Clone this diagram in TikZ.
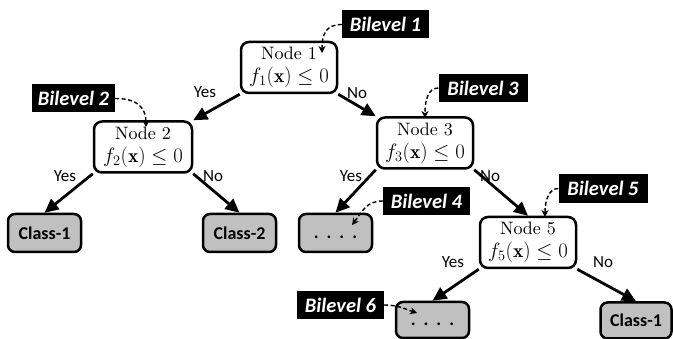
\documentclass[tikz,border=0pt]{standalone}
\usepackage{fontspec}
\usetikzlibrary{arrows.meta}
\newfontfamily\carlito{Carlito}
\newfontfamily\nodefont{lmroman10-regular.otf}
\definecolor{leafgray}{RGB}{192,192,192}
\begin{document}
\begin{tikzpicture}[x=1pt,y=-1pt,
  dnode/.style={draw, line width=2.5pt, rounded corners=8pt, fill=white, minimum width=96pt, minimum height=51pt, inner sep=0pt, align=center, font=\nodefont\fontsize{18}{23}\selectfont},
  leaf/.style={draw, line width=2.5pt, rounded corners=7pt, fill=leafgray, minimum width=73pt, minimum height=38pt, inner sep=0pt, font=\carlito\bfseries\fontsize{18}{22}\selectfont},
  bl/.style={fill=black, text=white, minimum width=87pt, minimum height=28pt, inner sep=0pt, font=\carlito\bfseries\itshape\fontsize{20.5}{24}\selectfont},
  yn/.style={font=\carlito\fontsize{17}{20}\selectfont, inner sep=0pt},
  arr/.style={line width=2.8pt, -{Triangle[length=14pt,width=13pt]}},
  darr/.style={line width=1.4pt, dash pattern=on 4pt off 2.5pt, -{Stealth[length=7pt,width=7pt]}}
]
\useasboundingbox (0,0) rectangle (673,339);
\newcommand{\dotsrow}{\vphantom{C}.\hskip 8pt.\hskip 8pt.\hskip 8pt.}
\newcommand{\fx}[1]{{\fontsize{19.5}{23}\selectfont$f_{#1}(\mathbf{x})\leq 0$}}
% decision nodes
\node[dnode] (n1) at (289,67.5) {Node 1\\\fx{1}};
\node[dnode, minimum width=98pt] (n2) at (143,147) {Node 2\\\fx{2}};
\node[dnode] (n3) at (425,143) {Node 3\\\fx{3}};
\node[dnode] (n5) at (528,242.5) {Node 5\\\fx{5}};
% leaves
\node[leaf] (c1) at (44.5,233) {Class-1};
\node[leaf] (c2) at (239.5,233) {Class-2};
\node[leaf] (d4) at (335.5,233) {\dotsrow};
\node[leaf, minimum height=36pt] (d6) at (432.5,320) {\dotsrow};
\node[leaf, minimum height=36pt, minimum width=71pt] (c1r) at (636,320.5) {Class-1};
% solid connectors
\draw[arr] (n1.south west) -- (n2.north east);
\draw[arr] (n1.south east) -- (n3.north west);
\draw[arr] (n2.south west) -- (c1.north);
\draw[arr] (n2.south east) -- (c2.north);
\draw[arr] (n3.south west) -- (d4.north);
\draw[arr] (n3.south east) -- (n5.north);
\draw[arr] (n5.south west) -- (d6.north);
\draw[arr] (n5.south east) -- (c1r.north);
% yes / no labels
\node[yn] (y1) at (205,92) {Yes};
\node[yn] (o1) at (357,93) {No};
\node[yn] (y2) at (65,176) {Yes};
\node[yn] (o2) at (213,176) {No};
\node[yn] (y3) at (351,176) {Yes};
\node[yn] (o3) at (490,176) {No};
\node[yn] (y5) at (453,262) {Yes};
\node[yn] (o5) at (603,262) {No};
% bilevel labels
\node[bl] (b1) at (385.5,24.5) {Bilevel 1};
\node[bl, minimum width=83pt] (b2) at (73.5,98.5) {Bilevel 2};
\node[bl, minimum width=89pt] (b3) at (483,88) {Bilevel 3};
\node[bl] (b4) at (426.5,201) {Bilevel 4};
\node[bl, minimum width=89pt, minimum height=29pt] (b5) at (603,188.5) {Bilevel 5};
\node[bl] (b6) at (340.5,305) {Bilevel 6};
% dashed arrow tips
\coordinate (t1) at (322,53);
\coordinate (t2) at (146,127);
\coordinate (t3) at (425,118);
\coordinate (t4) at (352,225);
\coordinate (t5) at (545,217);
\coordinate (t6) at (417,313);
\draw[darr] (b1.west) .. controls (326,24.5) and (322,34) .. (t1);
\draw[darr] (b2.east) .. controls (138,98.5) and (146,108) .. (t2);
\draw[darr] (b3.west) .. controls (428,88) and (425,100) .. (t3);
\draw[darr] (b4.west) .. controls (366,201) and (362,212) .. (t4);
\draw[darr] (b5.west) .. controls (549,188.5) and (545,200) .. (t5);
\draw[darr] (b6.east) .. controls (398,305) and (405,309) .. (t6);
\end{tikzpicture}
\end{document}
